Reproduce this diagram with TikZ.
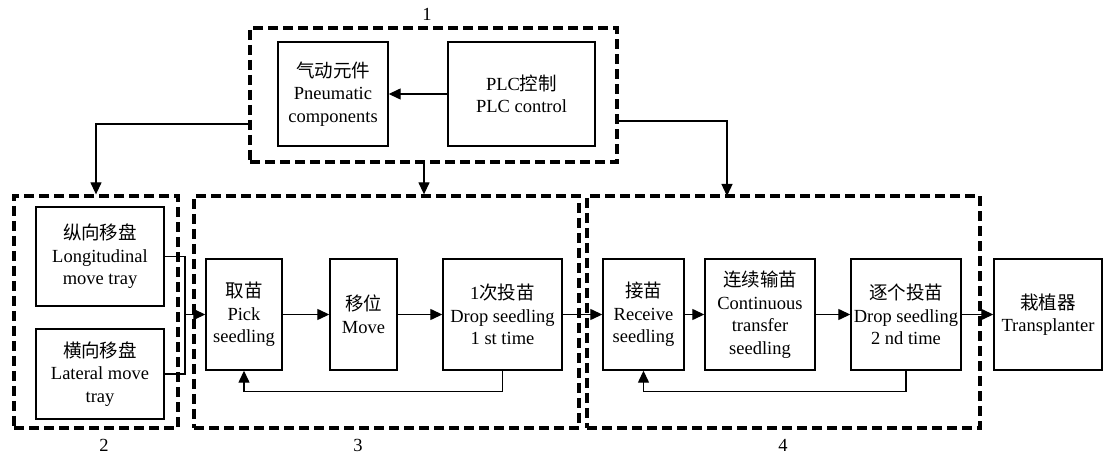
\documentclass[tikz,border=0pt]{standalone}
\usepackage{fontspec}
\setmainfont{Liberation Serif}
\newfontfamily\cjk{Noto Sans CJK SC}
\usetikzlibrary{arrows.meta}
\begin{document}
\begin{tikzpicture}[x=1pt,y=-1pt,
  box/.style={draw, line width=1.4pt, inner sep=0pt, align=center, font=\fontsize{18.5}{22.5}\selectfont},
  group/.style={draw, line width=3.3pt, dash pattern=on 10pt off 5pt, inner sep=0pt},
  conn/.style={line width=1.3pt},
  arr/.style={conn, -{Triangle[length=12pt,width=11pt]}},
  lab/.style={font=\fontsize{18.5}{22}\selectfont}
]
\useasboundingbox (0,0) rectangle (1104,454);
% groups
\node[group, minimum width=367pt, minimum height=134pt] (g1) at (433.5,95) {};
\node[group, minimum width=164pt, minimum height=232pt] (g2) at (96,312) {};
\node[group, minimum width=385pt, minimum height=232pt] (g3) at (386.5,312) {};
\node[group, minimum width=393pt, minimum height=232pt] (g4) at (783.5,312) {};
\node[lab] (l1) at (427,14) {1};
\node[lab] (l2) at (104,445) {2};
\node[lab] (l3) at (358,445) {3};
\node[lab] (l4) at (783,445) {4};
% boxes
\node[box, minimum width=110pt, minimum height=104pt] (pn) at (333,94) {{\cjk 气动元件}\\Pneumatic\\components};
\node[box, minimum width=147pt, minimum height=104pt] (plc) at (521.5,94) {PLC{\cjk 控制}\\PLC control};
\node[box, minimum width=128pt, minimum height=99pt] (lon) at (100,256.5) {{\cjk 纵向移盘}\\Longitudinal\\move tray};
\node[box, minimum width=128pt, minimum height=90pt] (lat) at (100,374) {{\cjk 横向移盘}\\Lateral move\\tray};
\node[box, minimum width=76pt, minimum height=111pt] (pick) at (244,314.5) {{\cjk 取苗}\\Pick\\seedling};
\node[box, minimum width=67pt, minimum height=111pt] (mov) at (363.5,314.5) {{\cjk 移位}\\Move};
\node[box, minimum width=119pt, minimum height=111pt] (dr1) at (502.5,314.5) {1{\cjk 次投苗}\\Drop seedling\\1 st time};
\node[box, minimum width=81pt, minimum height=111pt] (rec) at (643.5,314.5) {{\cjk 接苗}\\Receive\\seedling};
\node[box, minimum width=110pt, minimum height=111pt] (con) at (760,314.5) {{\cjk 连续输苗}\\Continuous\\transfer\\seedling};
\node[box, minimum width=110pt, minimum height=111pt] (dr2) at (906,314.5) {{\cjk 逐个投苗}\\Drop seedling\\2 nd time};
\node[box, minimum width=108pt, minimum height=111pt] (tra) at (1048,314.5) {{\cjk 栽植器}\\Transplanter};
% connectors
\coordinate (t4) at (727,196);
\coordinate (j) at (185,314.5);
\draw[arr] (plc.west) -- (pn.east);
\draw[arr] ([yshift=-29pt]g1.west) -| (g2.north);
\draw[arr] ([xshift=-9.5pt]g1.south) -- ([xshift=-9.5pt]g1.south |- g3.north);
\draw[arr] ([yshift=-26pt]g1.east) -| (t4);
\draw[conn] (lon.east) -| (j);
\draw[conn] (lat.east) -| (j);
\draw[arr] (j) -- (pick.west);
\draw[arr] (pick.east) -- (mov.west);
\draw[arr] (mov.east) -- (dr1.west);
\draw[arr] (dr1.east) -- (rec.west);
\draw[arr] (rec.east) -- (con.west);
\draw[arr] (con.east) -- (dr2.west);
\draw[arr] (dr2.east) -- (tra.west);
\draw[arr] (dr1.south) -- ++(0,21) -| (pick.south);
\draw[arr] (dr2.south) -- ++(0,21) -| (rec.south);
\end{tikzpicture}
\end{document}
